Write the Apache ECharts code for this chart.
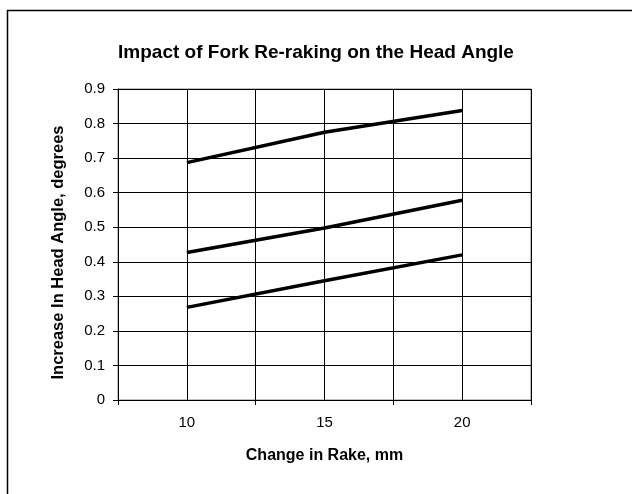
<!DOCTYPE html>
<html>
<head>
<meta charset="utf-8">
<script src="https://cdn.jsdelivr.net/npm/echarts@6/dist/echarts.min.js"></script>
<style>
html,body{margin:0;padding:0;background:#fff;}
#chart{width:632px;height:494px;}
</style>
</head>
<body>
<div id="chart"></div>
<script>
var rake = [10, 15, 20];
var seriesA = [0.687, 0.775, 0.838];
var seriesB = [0.427, 0.498, 0.578];
var seriesC = [0.268, 0.345, 0.420];
var xLabels = [10, 15, 20];
var xTickMarks = [7.5, 12.5, 17.5, 22.5];

var font = '"Liberation Sans", Arial, sans-serif';
function pairs(ys){ return rake.map(function(x,i){ return [x, ys[i]]; }); }
function lineSeries(ys){
  return {type:'line', xAxisIndex:0, data: pairs(ys), symbol:'none', lineStyle:{color:'#000', width:3.5}, silent:true};
}

var chart = echarts.init(document.getElementById('chart'), null, {renderer:'canvas'});
chart.setOption({
  animation:false,
  backgroundColor:'#fff',
  title:{
    text:'Impact of Fork Re-raking on the Head Angle',
    left:'center', top:38,
    textStyle:{fontFamily:font, fontSize:19, fontWeight:'bold', color:'#000'}
  },
  graphic:[{
    type:'rect', shape:{x:7.5, y:10.5, width:700, height:600},
    style:{fill:null, stroke:'#000', lineWidth:1.5}, silent:true
  },{
    type:'rect', shape:{x:118, y:89, width:413, height:311},
    style:{fill:null, stroke:'#808080', lineWidth:1}, silent:true, z:-1
  }],
  grid:{left:118, top:89, right:101, bottom:94},
  xAxis:[{
    type:'value', min:7.5, max:22.5, interval:2.5,
    name:'Change in Rake, mm', nameLocation:'middle', nameGap:48, nameMoveOverlap:false,
    nameTextStyle:{fontFamily:font, fontSize:16, fontWeight:'bold', color:'#000'},
    axisLine:{show:true, lineStyle:{color:'#000', width:1}},
    axisTick:{show:false},
    axisLabel:{customValues:xLabels, margin:15, fontFamily:font, fontSize:15, color:'#000'},
    splitLine:{show:true, lineStyle:{color:'#000', width:1}}
  },{
    type:'value', min:7.5, max:22.5, position:'bottom',
    axisLine:{show:false},
    axisTick:{show:true, length:5, customValues:xTickMarks, lineStyle:{color:'#000'}},
    axisLabel:{show:false},
    splitLine:{show:false}
  }],
  yAxis:{
    type:'value', min:0, max:0.9, interval:0.1,
    name:'Increase In Head Angle, degrees', nameLocation:'middle', nameGap:51, nameMoveOverlap:false,
    nameTextStyle:{fontFamily:font, fontSize:16.5, fontWeight:'bold', color:'#000', padding:[0,16,0,0]},
    axisLine:{show:true, lineStyle:{color:'#000', width:1}},
    axisTick:{show:true, length:5, lineStyle:{color:'#000'}},
    axisLabel:{margin:13, fontFamily:font, fontSize:15, color:'#000',
      formatter:function(v){ return v===0 ? '0' : v.toFixed(1); }},
    splitLine:{show:true, lineStyle:{color:'#000', width:1}}
  },
  series:[lineSeries(seriesA), lineSeries(seriesB), lineSeries(seriesC)]
});
</script>
</body>
</html>
